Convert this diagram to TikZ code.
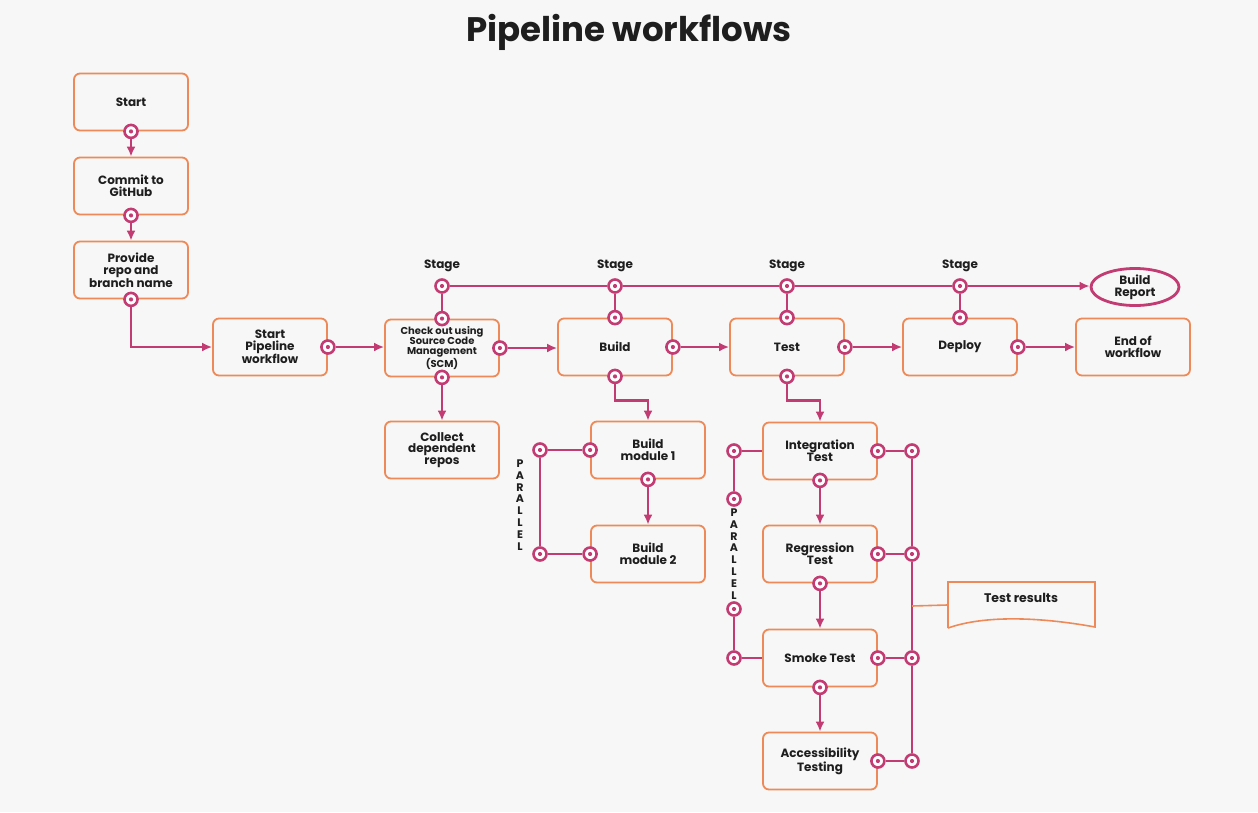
\documentclass[tikz,border=0pt]{standalone}
\usepackage{fontspec}
\setmainfont{Poppins}
\usetikzlibrary{arrows.meta,positioning,shapes.geometric}
\definecolor{Ink}{HTML}{1E1E1E}
\definecolor{Canvas}{HTML}{F7F7F7}
\definecolor{Rose}{HTML}{C23B72}
\definecolor{Peach}{HTML}{EE8A58}
\tikzset{
  stepbox/.style={rounded corners=6pt,draw=Peach,line width=1.8pt,minimum width=114pt,minimum height=57pt,align=center,font=\bfseries\fontsize{12}{11.8}\selectfont,text=Ink,inner sep=2pt},
  port/.style={circle,draw=Rose,line width=2.6pt,fill=white,minimum size=13pt,inner sep=0pt,path picture={\fill[Rose] (path picture bounding box.center) circle (2.1pt);}},
  link/.style={draw=Rose,line width=2.8pt},
  arrow/.style={link,-{Latex[length=10pt,width=9pt]}},
  stagelabel/.style={font=\bfseries\fontsize{12}{12}\selectfont,text=Ink},
  vertlabel/.style={align=center,font=\bfseries\fontsize{11}{11.9}\selectfont,text=Ink}
}

\begin{document}
\begin{tikzpicture}[x=1pt,y=-1pt]
  \fill[Canvas] (0,0) rectangle (1258,812);
  \useasboundingbox (0,0) rectangle (1258,812);
  \node[font=\bfseries\fontsize{34}{38}\selectfont,text=Ink] (title) at (629,32) {Pipeline workflows};

  % steps
  \node[stepbox] (start) at (131,102) {Start};
  \node[stepbox] (commit) at (131,186) {Commit to\\GitHub};
  \node[stepbox] (repo) at (131,270) {Provide\\repo and\\branch name};
  \node[stepbox] (pipe) at (270,347) {Start\\Pipeline\\workflow};
  \node[stepbox,font=\bfseries\fontsize{10}{10.2}\selectfont] (scm) at (442,348) {Check out using\\Source Code\\Management\\(SCM)};
  \node[stepbox] (build) at (615,347) {Build};
  \node[stepbox] (test) at (787,347) {Test};
  \node[stepbox] (deploy) at (960,347) {Deploy};
  \node[stepbox] (finish) at (1133,347) {End of\\workflow};
  \node[stepbox] (repos) at (442,450) {Collect\\dependent\\repos};
  \node[stepbox] (mod1) at (648,450) {Build\\module 1};
  \node[stepbox] (mod2) at (648,554) {Build\\module 2};
  \node[stepbox] (integ) at (820,451) {Integration\\Test};
  \node[stepbox] (regr) at (820,554) {Regression\\Test};
  \node[stepbox] (smoke) at (820,658) {Smoke Test};
  \node[stepbox] (access) at (820,761) {Accessibility\\Testing};
  \node[ellipse,draw=Rose,line width=2.8pt,minimum width=88pt,minimum height=37pt,inner sep=0pt,align=center,font=\bfseries\fontsize{12}{11.8}\selectfont,text=Ink] (report) at (1135,287) {Build\\Report};

  % ports on the boxes
  \foreach \n/\a in {start/south,commit/south,repo/south,pipe/east,scm/north,scm/east,scm/south,build/north,build/east,build/south,test/north,test/east,test/south,deploy/north,deploy/east,mod1/west,mod1/south,mod2/west,integ/east,integ/south,regr/east,regr/south,smoke/east,smoke/south,access/east}
    \node[port] (\n-\a) at (\n.\a) {};

  % main flow
  \draw[arrow] (start-south) -- (commit.north);
  \draw[arrow] (commit-south) -- (repo.north);
  \draw[arrow] (repo-south) |- (pipe.west);
  \draw[arrow] (pipe-east) -- (pipe-east -| scm.west);
  \draw[arrow] (scm-east) -- (scm-east -| build.west);
  \draw[arrow] (build-east) -- (test.west);
  \draw[arrow] (test-east) -- (deploy.west);
  \draw[arrow] (deploy-east) -- (finish.west);
  \draw[arrow] (scm-south) -- (repos.north);
  \draw[arrow] (build-south) -- ++(0,24) -| (mod1.north);
  \draw[arrow] (test-south) -- ++(0,24) -| (integ.north);
  \draw[arrow] (mod1-south) -- (mod2.north);
  \draw[arrow] (integ-south) -- (regr.north);
  \draw[arrow] (regr-south) -- (smoke.north);
  \draw[arrow] (smoke-south) -- (access.north);

  % stage rail
  \coordinate (rail) at (0,286);
  \foreach \s/\b in {1/scm,2/build,3/test,4/deploy} {
    \node[port] (sg\s) at (\b.north |- rail) {};
    \node[stagelabel] (stg\s) at ([yshift=20pt]sg\s) {Stage};
    \draw[link] (sg\s) -- (\b-north);
  }
  \draw[link] (sg1) -- (sg2);
  \draw[link] (sg2) -- (sg3);
  \draw[link] (sg3) -- (sg4);
  \draw[arrow] (sg4) -- (sg4 -| report.west);

  % parallel build modules
  \node[port] (bp1) at (540,450) {};
  \node[port] (bp2) at (540,554) {};
  \draw[link] (bp1) -- (mod1-west);
  \draw[link] (bp1) -- (bp2);
  \draw[link] (bp2) -- (mod2-west);
  \node[vertlabel] (bpar) at (520,505) {P\\A\\R\\A\\L\\L\\E\\L};

  % parallel tests
  \node[port] (tp1) at (734,451) {};
  \node[port] (tp2) at (734,499) {};
  \node[port] (tp3) at (734,609) {};
  \node[port] (tp4) at (734,658) {};
  \draw[link] (tp1) -- (integ.west);
  \draw[link] (tp1) -- (tp2);
  \draw[link] (tp3) -- (tp4);
  \draw[link] (tp4) -- (smoke.west);
  \node[vertlabel] (tpar) at (734,554) {P\\A\\R\\A\\L\\L\\E\\L};

  % collected test results
  \node[port] (rp1) at (912,451) {};
  \node[port] (rp2) at (912,554) {};
  \node[port] (rp3) at (912,658) {};
  \node[port] (rp4) at (912,761) {};
  \draw[link] (integ-east) -- (rp1);
  \draw[link] (regr-east) -- (rp2);
  \draw[link] (smoke-east) -- (rp3);
  \draw[link] (access-east) -- (rp4);
  \draw[link] (rp1) -- (rp2);
  \draw[link] (rp2) -- (rp3);
  \draw[link] (rp3) -- (rp4);
  \node[minimum width=147pt,minimum height=46pt,inner sep=0pt] (results) at (1021,605) {};
  \draw[Peach,line width=1.6pt] (948,628) -- (948,582) -- (1095,582) -- (1095,627) .. controls (1040,617) and (985,615) .. (948,628);
  \node[font=\bfseries\fontsize{12.5}{12}\selectfont,text=Ink] (restext) at (1021,598) {Test results};
  \coordinate (tap) at (912,606);
  \draw[Peach,line width=1.6pt] (tap) -- (results.west);
\end{tikzpicture}
\end{document}
